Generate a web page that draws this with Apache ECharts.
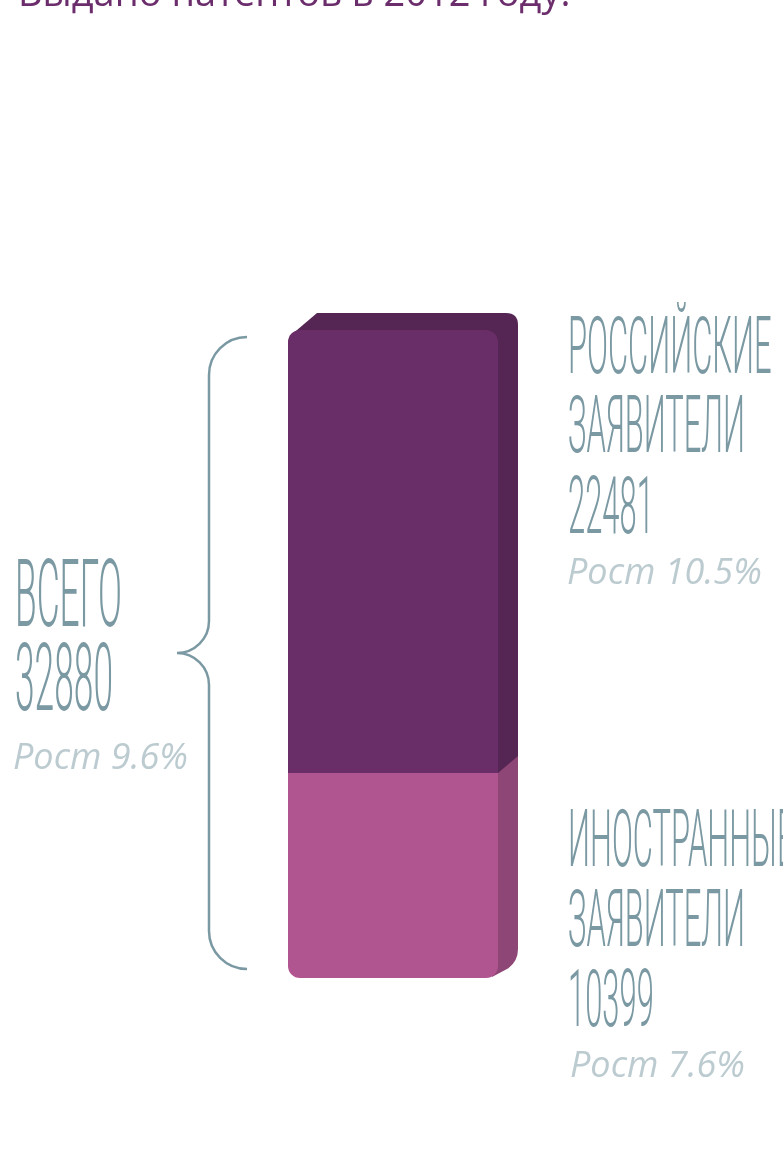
<!DOCTYPE html>
<html>
<head>
<meta charset="utf-8">
<script src="https://cdn.jsdelivr.net/npm/echarts@6/dist/echarts.min.js"></script>
<style>
  html, body { margin: 0; padding: 0; background: #fff; }
  #chart { width: 783px; height: 1172px; }
</style>
</head>
<body>
<div id="chart"></div>
<script>
// данные: снизу вверх
const categories = ['Патенты 2012'];
const groupNames = [['ИНОСТРАННЫЕ', 'ЗАЯВИТЕЛИ'], ['РОССИЙСКИЕ', 'ЗАЯВИТЕЛИ']];
const groupValues = [10399, 22481];
const groupGrowth = ['7.6%', '10.5%'];
const totalValue = 32880;
const totalGrowth = '9.6%';
const titleText = 'Выдано патентов в 2012 году:';

const chart = echarts.init(document.getElementById('chart'));

// сегменты столбца: [категория, начало, конец, индекс]
const segments = [];
let acc = 0;
groupValues.forEach(function (v, i) {
  segments.push([0, acc, acc + v, i]);
  acc += v;
});

const front = ['#b0558f', '#692d67'];
const side = ['#8e4676', '#552553'];

function renderBar (params, api) {
  const i = api.value(3);
  const lo = api.coord([api.value(0), api.value(1)]);
  const hi = api.coord([api.value(0), api.value(2)]);
  const w = api.size([1, 0])[0];
  const x0 = lo[0] - w / 2;
  const x1 = lo[0] + w / 2;
  const yb = lo[1];
  const yt = hi[1];
  const dx = 20, dy = -17, r = 12;
  const isTop = i === groupValues.length - 1;
  let back;
  if (isTop) {
    back = 'M' + (x0 + 2) + ' ' + (yt + 6) +
      ' L' + (x0 + dx + 9) + ' ' + (yt + dy) +
      ' L' + (x1 + dx - r) + ' ' + (yt + dy) +
      ' Q' + (x1 + dx) + ' ' + (yt + dy) + ' ' + (x1 + dx) + ' ' + (yt + dy + r) +
      ' L' + (x1 + dx) + ' ' + (yb + dy) +
      ' L' + x1 + ' ' + yb + ' Z';
  } else {
    back = 'M' + x0 + ' ' + yt +
      ' L' + (x0 + dx) + ' ' + (yt + dy) +
      ' L' + (x1 + dx) + ' ' + (yt + dy) +
      ' L' + (x1 + dx) + ' ' + (yb + dy - r) +
      ' Q' + (x1 + dx) + ' ' + (yb + dy) + ' ' + (x1 + dx - r * 0.8) + ' ' + (yb + dy + r * 0.6) +
      ' L' + (x1 - 6) + ' ' + (yb - 1) +
      ' L' + x1 + ' ' + yt + ' Z';
  }
  return {
    type: 'group',
    children: [{
      type: 'path',
      shape: { pathData: back },
      style: { fill: side[i] }
    }, {
      type: 'rect',
      shape: { x: x0, y: yt, width: w, height: yb - yt, r: isTop ? [r, r, 0, 0] : [0, 0, r, r] },
      style: { fill: front[i] }
    }]
  };
}

// фигурная скобка слева от столбца
function renderBrace (params, api) {
  const lo = api.coord([api.value(0), api.value(1)]);
  const hi = api.coord([api.value(0), api.value(2)]);
  const w = api.size([1, 0])[0];
  const x0 = lo[0] - w / 2;
  const xe = x0 - 41, xv = x0 - 79, xt = x0 - 111;
  const y1 = hi[1] + 7, y2 = lo[1] - 9;
  const ym = (y1 + y2) / 2;
  const R = 38, Rt = 32;
  const d = 'M' + xe + ' ' + y1 +
    ' A' + R + ' ' + R + ' 0 0 0 ' + xv + ' ' + (y1 + R) +
    ' L' + xv + ' ' + (ym - Rt) +
    ' A' + Rt + ' ' + Rt + ' 0 0 1 ' + xt + ' ' + ym +
    ' A' + Rt + ' ' + Rt + ' 0 0 1 ' + xv + ' ' + (ym + Rt) +
    ' L' + xv + ' ' + (y2 - R) +
    ' A' + R + ' ' + R + ' 0 0 0 ' + xe + ' ' + y2;
  return {
    type: 'path',
    shape: { pathData: d },
    style: { fill: 'none', stroke: '#7b99a3', lineWidth: 2.5 }
  };
}

// узкий шрифт: сжимаем по горизонтали
const measureCtx = document.createElement('canvas').getContext('2d');
const condFont = function (size) { return '300 ' + size + 'px Roboto'; };
function scaleFor (text, size, target) {
  measureCtx.font = condFont(size);
  return target / measureCtx.measureText(text).width;
}
function condText (text, x, baseline, size, sx) {
  return {
    type: 'text', x: x, y: baseline - size * 0.27, scaleX: sx,
    style: { text: text, font: condFont(size), fill: '#7b99a3', verticalAlign: 'middle' }
  };
}
function growthText (text, x, baseline) {
  return {
    type: 'text', x: x, y: baseline - 36 * 0.3,
    style: { text: 'Рост ' + text, font: 'italic 36px "Open Sans"', fill: '#bccbd0', verticalAlign: 'middle' }
  };
}

const sxRight = scaleFor('ЗАЯВИТЕЛИ', 79, 177);
const sxLeft = scaleFor('ВСЕГО', 94, 107);

const graphics = [
  {
    type: 'text', x: 18, y: 9 - 38 * 0.37,
    style: { text: titleText, font: '38px "Open Sans"', fill: '#6b2d6b', verticalAlign: 'middle' }
  },
  condText('ВСЕГО', 15, 628, 94, sxLeft),
  condText(String(totalValue), 15, 712, 94, sxLeft),
  growthText(totalGrowth, 13, 770),
  condText(groupNames[1][0], 568, 375, 79, sxRight),
  condText(groupNames[1][1], 568, 454, 79, sxRight),
  condText(String(groupValues[1]), 568, 535, 79, sxRight),
  growthText(groupGrowth[1], 567, 585),
  condText(groupNames[0][0], 568, 868, 79, sxRight),
  condText(groupNames[0][1], 568, 948, 79, sxRight),
  condText(String(groupValues[0]), 568, 1028, 79, sxRight),
  growthText(groupGrowth[0], 570, 1078)
];

const option = {
  animation: false,
  grid: { left: 288, right: 285, top: 330, bottom: 194 },
  xAxis: { type: 'category', data: categories, show: false },
  yAxis: { type: 'value', min: 0, max: totalValue, show: false },
  series: [{
    type: 'custom',
    renderItem: renderBar,
    data: segments
  }, {
    type: 'custom',
    renderItem: renderBrace,
    data: [[0, 0, totalValue]]
  }],
  graphic: graphics
};
chart.setOption(option);
</script>
</body>
</html>
